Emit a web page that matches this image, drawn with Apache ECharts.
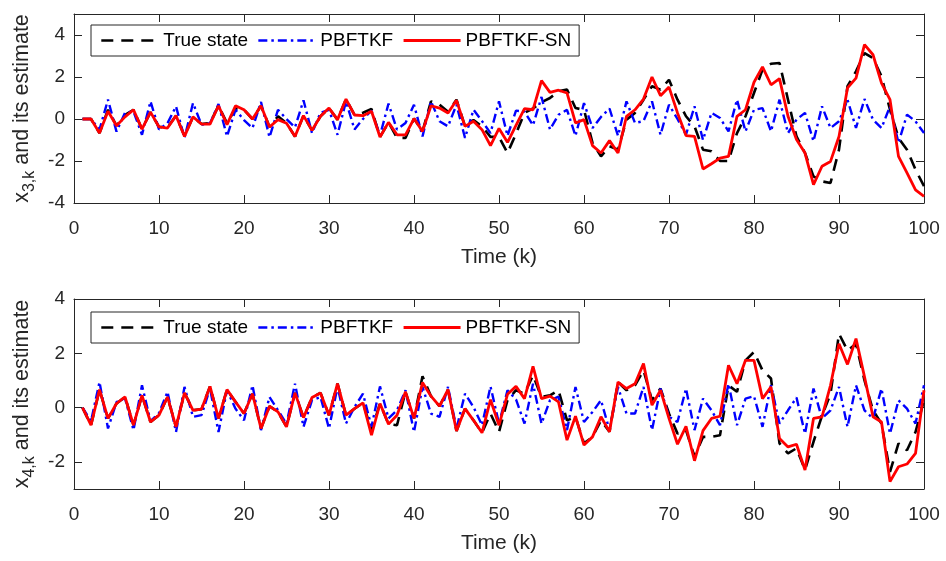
<!DOCTYPE html>
<html>
<head>
<meta charset="utf-8">
<script src="https://cdn.jsdelivr.net/npm/echarts@6/dist/echarts.min.js"></script>
<style>html,body{margin:0;padding:0;background:#fff}#c{width:946px;height:561px}</style>
</head>
<body>
<div id="c"></div>
<script>
// time steps k = 1..100
const timeSteps = Array.from({length: 100}, (_, i) => i + 1);
const xTicks = [0, 10, 20, 30, 40, 50, 60, 70, 80, 90, 100];
const yTicksTop = [-4, -2, 0, 2, 4];
const yTicksBottom = [-2, 0, 2, 4];
const legendNames = ['True state', 'PBFTKF', 'PBFTKF-SN'];

// x_{3,k}
const true3 = [0,0,-0.67,0.44,-0.32,0.2,0.44,-0.48,0.33,-0.38,
  -0.4,0.16,-0.8,0.1,-0.24,-0.2,0.63,-0.2,0.5,0.44,
  0,0.63,-0.38,0.13,-0.2,-0.83,0.16,-0.54,0.13,0.52,
  -0.03,0.95,0.19,0.3,0.48,-0.86,-0.16,-0.9,-0.9,0.02,
  -0.59,0.84,0.68,0.35,0.92,-0.35,-0.05,-0.35,-0.85,-0.85,
  -1.62,-0.7,0.29,0.5,0.8,1.0,1.32,1.4,0.52,0.44,
  -1.14,-1.78,-1.3,-1.46,-0.03,0.29,0.92,1.56,1.4,1.87,
  0.92,0.13,-0.35,-1.46,-1.54,-2.0,-2.0,-0.67,0.13,1.24,
  2.35,2.63,2.67,0.92,-0.83,-1.62,-2.73,-2.97,-3.05,-1.46,
  1.56,2.27,3.14,2.9,2.03,0.44,-0.9,-1.46,-2.41,-3.2];
const pbftkf3 = [0,0,-0.5,0.92,-0.6,0.3,0.35,-0.75,0.84,-0.5,
  -0.2,0.6,-0.9,0.76,-0.27,-0.2,0.71,-0.83,0.44,-0.05,
  -0.43,0.81,-0.87,0.44,0,-0.4,0.89,-0.67,0.3,0.44,
  -0.75,0.84,-0.5,0,0.4,-0.79,0.73,-0.5,-0.19,0.68,
  -0.83,0.84,-0.11,-0.35,0.68,-0.9,0.44,-0.1,-0.67,0.84,
  -0.8,0.4,0.35,-0.3,1.05,-0.5,0.2,0.44,-0.8,0.76,
  -0.43,0.1,0.5,-0.8,0.84,-0.19,-0.1,0.84,-0.75,0.68,
  0,-0.75,0.6,-1.0,0.29,0.05,-0.59,0.92,-0.59,0.44,
  0.52,-0.59,0.92,-0.67,-0.03,0.29,-1.06,0.6,-0.43,-0.11,
  0.92,-0.43,0.95,-0.03,-0.43,0.6,-1.14,0.21,-0.11,-0.67];
const sn3 = [0,0,-0.67,0.37,-0.32,0.1,0.44,-0.48,0.33,-0.38,
  -0.43,0.16,-0.83,0.1,-0.24,-0.24,0.63,-0.27,0.63,0.44,
  0,0.63,-0.38,-0.03,-0.2,-0.83,0.16,-0.54,0.13,0.52,
  -0.03,0.95,0.19,0.16,0.37,-0.86,-0.16,-0.75,-0.76,0.02,
  -0.59,0.63,0.52,0.29,0.89,-0.35,-0.11,-0.51,-1.27,-0.45,
  -1.11,-0.3,0.49,0.44,1.83,1.27,1.37,1.24,-0.19,-0.03,
  -1.27,-1.62,-1.03,-1.62,0.13,0.44,0.95,2.0,1.11,1.52,
  0.29,-0.79,-0.83,-2.38,-2.13,-1.86,-1.78,0.13,0.44,1.75,
  2.48,1.63,1.92,0.13,-0.98,-1.62,-3.13,-2.25,-2.02,-0.83,
  1.48,1.95,3.54,3.06,1.71,0.92,-1.78,-2.57,-3.37,-3.68];

// x_{4,k}
const true4 = [0,-0.65,0.66,-0.4,0.15,0.39,-0.65,0.45,-0.53,-0.28,
  0.39,-0.71,0.54,-0.1,-0.06,0.78,-0.4,0.66,0.21,-0.22,
  0.51,-0.77,0.05,-0.16,-0.71,0.54,-0.37,0.37,0.54,-0.28,
  0.88,-0.28,-0.04,0.17,-0.85,0.15,-0.61,-0.65,0.58,-0.4,
  1.15,0.42,0.05,0.66,-0.86,-0.04,-0.47,-0.93,-0.22,-0.9,
  0.27,0.64,0.51,1.19,0.39,0.45,0.64,-0.47,-0.35,-1.32,
  -1.08,-0.47,-0.89,0.94,0.64,0.82,1.37,0.27,0.7,-0.22,
  -0.96,-0.83,-1.81,-1.08,-1.08,-1.02,0.82,0.58,1.74,2.05,
  1.37,1.07,-1.32,-1.69,-1.5,-2.3,-1.26,-0.3,0.5,2.72,
  2.1,2.35,1.0,-0.1,-0.59,-2.37,-1.32,-1.57,-0.9,0.27];
const pbftkf4 = [0,-0.5,0.94,-0.77,0.2,0.35,-0.83,0.82,-0.5,-0.2,
  0.58,-0.9,0.76,-0.34,-0.28,0.7,-0.9,0.64,-0.04,-0.47,
  0.82,-0.83,0.39,-0.1,-0.6,0.88,-0.71,0.27,0.39,-0.77,
  0.76,-0.59,0.02,0.51,-0.71,0.78,-0.4,-0.1,0.64,-0.9,
  0.76,-0.22,-0.34,0.76,-0.77,0.51,0.02,-0.65,0.78,-0.59,
  0.64,0.3,-0.59,0.88,-0.59,0.27,0.4,-0.83,0.76,-0.53,
  -0.16,0.27,-0.83,0.76,-0.22,-0.22,0.76,-0.83,0.7,-0.34,
  -0.53,0.7,-0.83,0.33,-0.1,-0.65,0.88,-0.65,0.33,0.42,
  -0.71,0.82,-0.59,-0.1,0.37,-0.96,0.7,-0.4,-0.1,0.76,
  -0.71,0.82,-0.1,-0.4,0.7,-0.96,0.27,-0.04,-0.59,0.82];
const sn4 = [0,-0.65,0.66,-0.4,0.15,0.39,-0.65,0.45,-0.53,-0.28,
  0.39,-0.71,0.54,-0.1,-0.06,0.78,-0.4,0.66,0.21,-0.22,
  0.51,-0.77,0.05,-0.16,-0.71,0.54,-0.37,0.37,0.54,-0.28,
  0.88,-0.28,-0.04,0.17,-1.02,0.15,-0.61,-0.28,0.58,-0.4,
  0.92,0.42,0.05,0.66,-0.86,-0.04,-0.47,-0.93,0.29,-0.65,
  0.49,0.78,0.33,1.52,0.33,0.42,0.21,-1.2,-0.32,-1.38,
  -1.08,-0.34,-0.89,0.94,0.7,0.88,1.62,0.09,0.64,-0.4,
  -1.35,-0.69,-1.96,-0.85,-0.4,-0.32,1.56,0.88,1.74,1.74,
  0.33,0.76,-1.14,-1.45,-1.35,-2.3,-0.4,-0.34,0.82,2.35,
  1.59,2.54,1.13,-0.34,-0.53,-2.73,-2.18,-2.08,-1.69,0.64];

const pair = v => v.map((y, i) => [timeSteps[i], y]);
const FONT = 'Liberation Sans, Arial, sans-serif';
const AX = '#262626';

function xAxes(grid) {
  return [{
    type: 'value', gridIndex: grid, min: 0, max: 100, interval: 10,
    position: 'bottom',
    name: 'Time (k)', nameLocation: 'middle', nameGap: 44,
    nameTextStyle: {fontFamily: FONT, fontSize: 21, color: AX},
    axisLine: {show: true, onZero: false, lineStyle: {color: AX, width: 1}},
    axisTick: {show: true, inside: true, length: 8, lineStyle: {color: AX}},
    axisLabel: {fontFamily: FONT, fontSize: 19, color: AX, margin: 16,
      customValues: xTicks},
    splitLine: {show: false}
  }, {
    type: 'value', gridIndex: grid, min: 0, max: 100, interval: 10,
    position: 'top',
    axisLine: {show: true, onZero: false, lineStyle: {color: AX, width: 1}},
    axisTick: {show: true, inside: true, length: 8, lineStyle: {color: AX}},
    axisLabel: {show: false}, splitLine: {show: false}
  }];
}
function yAxes(grid, min, max, ticks, sub) {
  return [{
    type: 'value', gridIndex: grid, min: min, max: max,
    position: 'left',
    name: '{m|x}{s|' + sub + '}{m| and its estimate}',
    nameLocation: 'middle', nameGap: 36, nameRotate: 90,
    nameTextStyle: {
      rich: {
        m: {fontFamily: FONT, fontSize: 21.5, color: AX, lineHeight: 30, verticalAlign: 'middle'},
        s: {fontFamily: FONT, fontSize: 16, color: AX, lineHeight: 30, verticalAlign: 'bottom'}
      }
    },
    axisLine: {show: true, onZero: false, lineStyle: {color: AX, width: 1}},
    axisTick: {show: true, inside: true, length: 8, lineStyle: {color: AX}, customValues: ticks},
    axisLabel: {fontFamily: FONT, fontSize: 19, color: AX, margin: 9, customValues: ticks},
    splitLine: {show: false}
  }, {
    type: 'value', gridIndex: grid, min: min, max: max,
    position: 'right',
    axisLine: {show: true, onZero: false, lineStyle: {color: AX, width: 1}},
    axisTick: {show: true, inside: true, length: 8, lineStyle: {color: AX}, customValues: ticks},
    axisLabel: {show: false}, splitLine: {show: false}
  }];
}
function seriesFor(xi, yi, t, b, r) {
  return [
    {name: legendNames[0], type: 'line', xAxisIndex: xi, yAxisIndex: yi, data: pair(t),
      showSymbol: false, symbol: 'none', lineStyle: {color: '#000', width: 2.6, type: [12, 8]}, itemStyle: {color: '#000'}, z: 2},
    {name: legendNames[1], type: 'line', xAxisIndex: xi, yAxisIndex: yi, data: pair(b),
      showSymbol: false, symbol: 'none', lineStyle: {color: '#0000ff', width: 2.4, type: [9, 4, 2.5, 4]}, itemStyle: {color: '#0000ff'}, z: 3},
    {name: legendNames[2], type: 'line', xAxisIndex: xi, yAxisIndex: yi, data: pair(r),
      showSymbol: false, symbol: 'none', lineStyle: {color: '#ff0000', width: 2.8}, itemStyle: {color: '#ff0000'}, z: 4}
  ];
}
function legendAt(top) {
  return {
    data: legendNames, left: 91, top: top, orient: 'horizontal',
    width: 485, padding: [6, 8, 6, 9], itemGap: 9, itemWidth: 57, itemHeight: 20,
    backgroundColor: '#fff', borderColor: AX, borderWidth: 1,
    itemStyle: {opacity: 0},
    lineStyle: {width: 'inherit', type: 'inherit'},
    textStyle: {fontFamily: FONT, fontSize: 19, color: '#000'},
    selectedMode: false
  };
}

const chart = echarts.init(document.getElementById('c'), null, {renderer: 'canvas'});
chart.setOption({
  animation: false,
  backgroundColor: '#fff',
  grid: [
    {left: 74, right: 22, top: 14, height: 189},
    {left: 74, right: 22, top: 299, height: 190}
  ],
  legend: [legendAt(25), legendAt(312)],
  xAxis: [...xAxes(0), ...xAxes(1)],
  yAxis: [...yAxes(0, -4, 5, yTicksTop, '3,k'), ...yAxes(1, -3, 4, yTicksBottom, '4,k')],
  series: [...seriesFor(0, 0, true3, pbftkf3, sn3), ...seriesFor(2, 2, true4, pbftkf4, sn4)]
});
</script>
</body>
</html>
